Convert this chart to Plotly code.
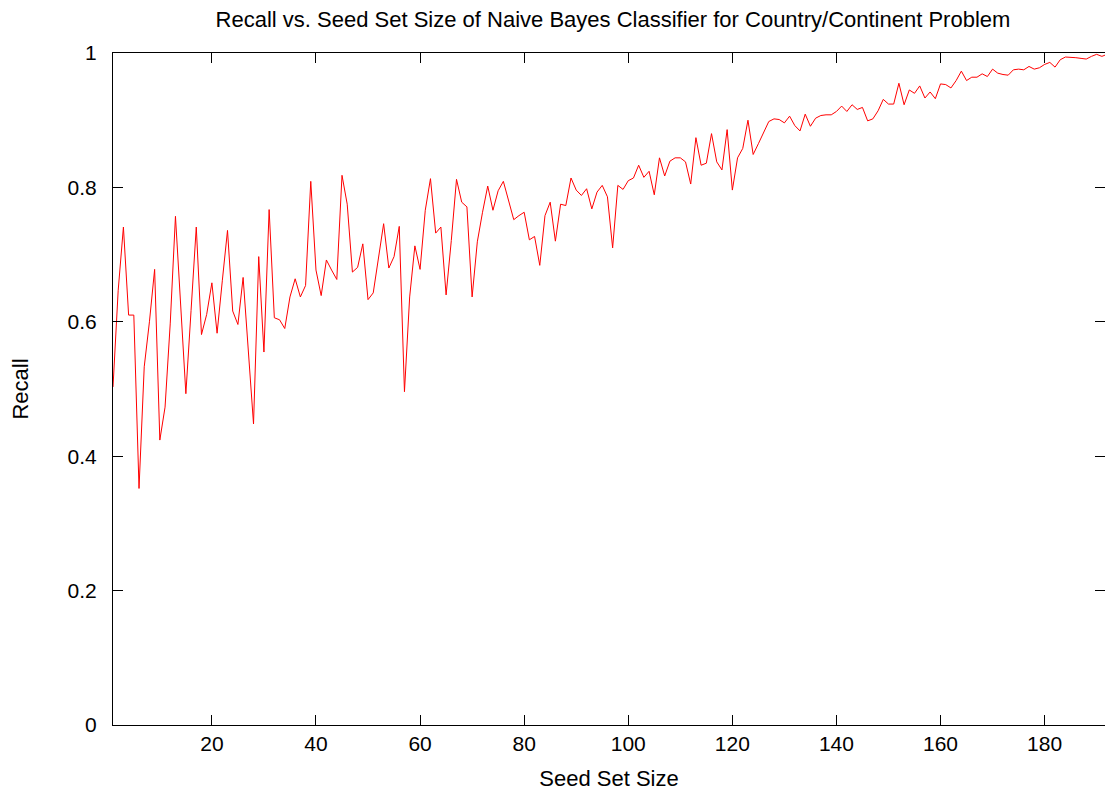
import plotly.graph_objects as go

# Seed set sizes (x) and recall values (y)
seed_set_size = list(range(1, 193))
recall = [
    0.503, 0.647, 0.741, 0.610, 0.610, 0.352, 0.533, 0.600, 0.678, 0.424,
    0.473, 0.598, 0.757, 0.627, 0.493, 0.617, 0.741, 0.581, 0.611, 0.658,
    0.583, 0.661, 0.736, 0.616, 0.596, 0.666, 0.557, 0.448, 0.697, 0.555,
    0.767, 0.606, 0.603, 0.590, 0.637, 0.664, 0.637, 0.654, 0.809, 0.677,
    0.639, 0.692, 0.677, 0.663, 0.818, 0.775, 0.674, 0.681, 0.716, 0.633,
    0.643, 0.694, 0.746, 0.680, 0.697, 0.742, 0.496, 0.637, 0.713, 0.678,
    0.766, 0.813, 0.732, 0.741, 0.640, 0.721, 0.812, 0.778, 0.771, 0.637,
    0.719, 0.763, 0.802, 0.766, 0.795, 0.809, 0.781, 0.752, 0.758, 0.763,
    0.722, 0.727, 0.684, 0.758, 0.778, 0.720, 0.775, 0.773, 0.814, 0.796,
    0.788, 0.798, 0.768, 0.793, 0.803, 0.786, 0.710, 0.803, 0.797, 0.810,
    0.814, 0.833, 0.815, 0.824, 0.789, 0.844, 0.817, 0.839, 0.844, 0.844,
    0.838, 0.805, 0.874, 0.833, 0.836, 0.880, 0.838, 0.826, 0.886, 0.796,
    0.844, 0.858, 0.900, 0.849, 0.865, 0.881, 0.898, 0.902, 0.901, 0.896,
    0.906, 0.892, 0.884, 0.909, 0.891, 0.903, 0.907, 0.908, 0.908, 0.913,
    0.921, 0.913, 0.923, 0.916, 0.919, 0.899, 0.902, 0.914, 0.931, 0.924,
    0.924, 0.955, 0.923, 0.945, 0.940, 0.951, 0.933, 0.942, 0.932, 0.954,
    0.953, 0.948, 0.959, 0.973, 0.959, 0.964, 0.964, 0.969, 0.965, 0.976,
    0.970, 0.968, 0.967, 0.975, 0.976, 0.975, 0.980, 0.976, 0.978, 0.983,
    0.986, 0.979, 0.990, 0.994, 0.994, 0.993, 0.992, 0.991, 0.995, 0.998,
    0.995, 0.998,
]

x_tick_vals = [20, 40, 60, 80, 100, 120, 140, 160, 180]
y_tick_vals = [0, 0.2, 0.4, 0.6, 0.8, 1]
y_tick_text = ["0", "0.2", "0.4", "0.6", "0.8", "1"]

FONT = "Liberation Sans, Arial, Helvetica, sans-serif"
TICK_SIZE = 21
LABEL_SIZE = 22

fig = go.Figure()
fig.add_trace(go.Scatter(
    x=seed_set_size, y=recall, mode="lines",
    line=dict(color="#ff0000", width=1),
    showlegend=False,
))

fig.update_layout(
    width=1105, height=791, autosize=False,
    paper_bgcolor="white", plot_bgcolor="white",
    margin=dict(l=113, r=0, t=53, b=66),
    font=dict(family=FONT, size=TICK_SIZE, color="black"),
    title=dict(
        text="Recall vs. Seed Set Size of Naive Bayes Classifier for Country/Continent Problem",
        x=0.504, xanchor="center", xref="paper",
        y=1 - 19.5 / 791, yanchor="middle", yref="container",
        font=dict(family=FONT, size=LABEL_SIZE, color="black"),
    ),
)

fig.update_xaxes(
    range=[1, 191.6], tickvals=x_tick_vals,
    ticks="inside", ticklen=10, tickwidth=1, tickcolor="black",
    showline=True, linecolor="black", linewidth=1, mirror="ticks",
    showgrid=False, zeroline=False,
    tickfont=dict(family=FONT, size=TICK_SIZE),
    title=dict(text="Seed Set Size", font=dict(family=FONT, size=LABEL_SIZE), standoff=18),
)
fig.update_yaxes(
    range=[0, 1], tickvals=y_tick_vals, ticktext=y_tick_text,
    ticks="inside", ticklen=10, tickwidth=1, tickcolor="black",
    showline=True, linecolor="black", linewidth=1, mirror="ticks",
    showgrid=False, zeroline=False,
    tickfont=dict(family=FONT, size=TICK_SIZE),
    ticklabelstandoff=11,
    title=dict(text="Recall", font=dict(family=FONT, size=LABEL_SIZE), standoff=32),
)

fig.write_html("out.html")
